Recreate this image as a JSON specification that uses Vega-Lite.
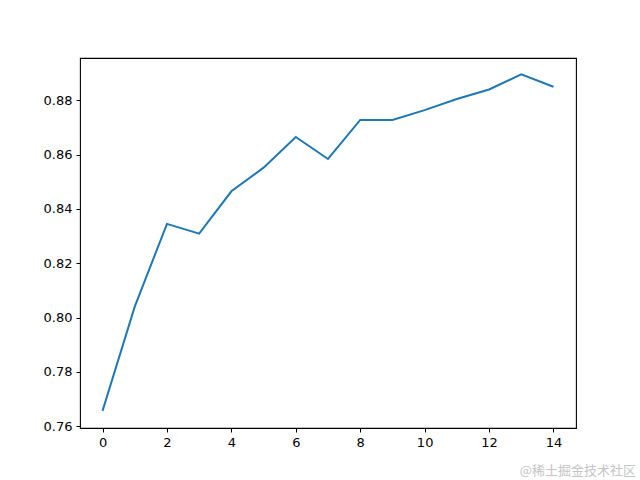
{
  "$schema": "https://vega.github.io/schema/vega-lite/v6.json",
  "width": 496,
  "height": 370,
  "autosize": "none",
  "padding": {"left": 80, "top": 58, "right": 64, "bottom": 52},
  "background": "white",
  "config": {
    "view": {"stroke": "black", "strokeWidth": 1.1},
    "axis": {
      "grid": false,
      "domain": false,
      "tickColor": "black",
      "tickSize": 4,
      "tickWidth": 1,
      "labelFont": "DejaVu Sans",
      "labelFontSize": 13,
      "labelColor": "black",
      "labelPadding": 4,
      "title": null
    }
  },
  "title": {
    "text": "@稀土掘金技术社区",
    "orient": "bottom",
    "anchor": "end",
    "baseline": "middle",
    "font": "Noto Sans CJK SC",
    "fontSize": 13,
    "fontWeight": "normal",
    "color": "#c4c4c4",
    "offset": 22,
    "dx": 60
  },
  "data": {
    "values": [
      {"epoch": 0, "acc": 0.7656},
      {"epoch": 1, "acc": 0.8040},
      {"epoch": 2, "acc": 0.8345},
      {"epoch": 3, "acc": 0.8309},
      {"epoch": 4, "acc": 0.8465},
      {"epoch": 5, "acc": 0.8552},
      {"epoch": 6, "acc": 0.8665},
      {"epoch": 7, "acc": 0.8584},
      {"epoch": 8, "acc": 0.8728},
      {"epoch": 9, "acc": 0.8728},
      {"epoch": 10, "acc": 0.8764},
      {"epoch": 11, "acc": 0.8805},
      {"epoch": 12, "acc": 0.8840},
      {"epoch": 13, "acc": 0.8896},
      {"epoch": 14, "acc": 0.8850}
    ]
  },
  "mark": {"type": "line", "color": "#1f77b4", "strokeWidth": 2},
  "encoding": {
    "x": {
      "field": "epoch",
      "type": "quantitative",
      "scale": {"domain": [-0.7, 14.7], "nice": false, "zero": false},
      "axis": {"values": [0, 2, 4, 6, 8, 10, 12, 14]}
    },
    "y": {
      "field": "acc",
      "type": "quantitative",
      "scale": {"domain": [0.7593, 0.8956], "nice": false, "zero": false},
      "axis": {"values": [0.76, 0.78, 0.80, 0.82, 0.84, 0.86, 0.88], "format": ".2f"}
    }
  }
}
